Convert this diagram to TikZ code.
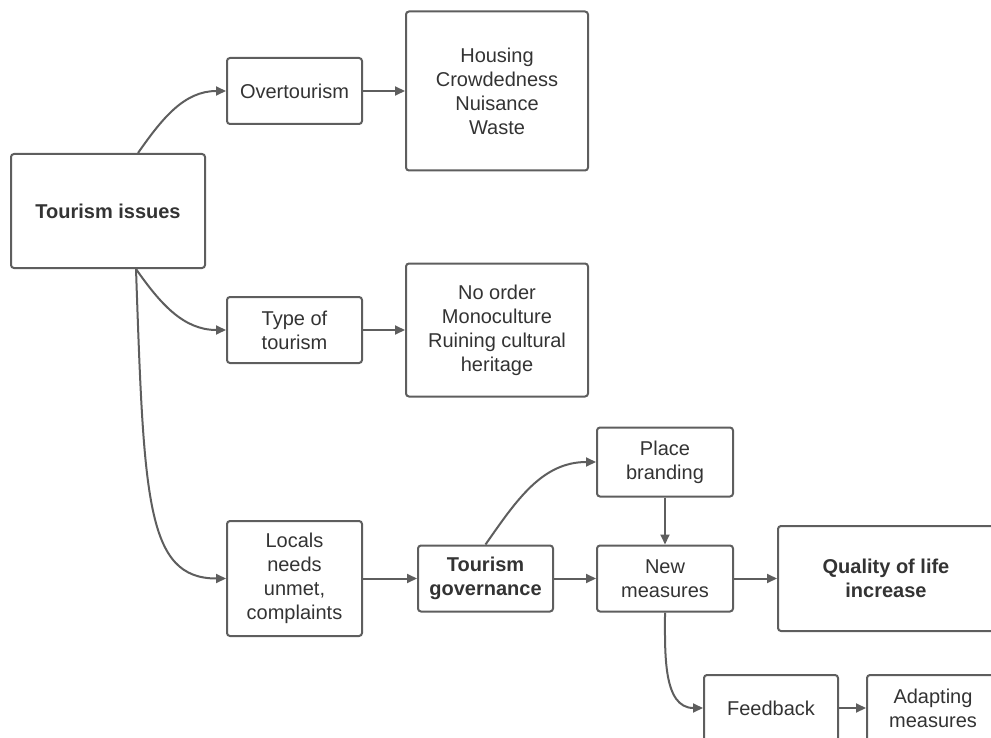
\documentclass[tikz,border=0pt]{standalone}
\usepackage{fontspec}
\setmainfont{Liberation Sans}
\usetikzlibrary{arrows.meta,positioning}
\definecolor{linegray}{HTML}{5E5E5E}
\definecolor{textgray}{HTML}{333333}

\begin{document}
\begin{tikzpicture}[x=0.5pt,y=-0.5pt,->,>={Triangle[length=5pt,width=4.5pt]},line width=1pt,draw=linegray,node distance=21pt,
  every node/.style={draw=linegray,rounded corners=1.5pt,align=center,text=textgray,inner sep=2pt},
  small/.style={minimum width=67.5pt,minimum height=33pt},
  list/.style={minimum width=91pt}]
\useasboundingbox (0,0) rectangle (991,738);
\clip (0,0) rectangle (991,738);
\node[minimum width=97pt,minimum height=57pt,font=\bfseries] (issues) at (108,211) {Tourism issues};
\node[small] (over) at (294.5,91) {Overtourism};
\node[list,minimum height=79.5pt] (housing) [right=of over] {Housing\\Crowdedness\\Nuisance\\Waste};
\node[small] (type) at (294.5,330) {Type of\\tourism};
\node[list,minimum height=66.5pt] (noorder) [right=of type] {No order\\Monoculture\\Ruining cultural\\heritage};
\node[small,minimum height=57.5pt] (locals) at (294.5,578.5) {Locals\\needs\\unmet,\\complaints};
\node[small,font=\bfseries] (gov) [right=27pt of locals] {Tourism\\governance};
\node[small,minimum width=68pt] (new) [right=of gov] {New\\measures};
\node[small,minimum width=68pt,minimum height=34.5pt] (place) [above=23.5pt of new] {Place\\branding};
\node[minimum width=108pt,minimum height=52.5pt,font=\bfseries] (quality) [right=21.5pt of new] {Quality of life\\increase};
\node[small,minimum width=67pt] (feedback) at (771,708) {Feedback};
\node[small,minimum width=66pt] (adapting) [right=13.5pt of feedback] {Adapting\\measures};
% branches out of the issues box
\draw ([xshift=15pt]issues.north) to[out=55,in=180] (over.west);
\draw ([xshift=14pt]issues.south) to[out=-55,in=180] (type.west);
\draw ([xshift=14pt]issues.south) .. controls +(8,230) and +(-80,0) .. (locals.west);
\draw (over) -- (housing);
\draw (type) -- (noorder);
\draw (locals) -- (gov);
\draw (gov.north) to[out=55,in=180] (place.west);
\draw (gov) -- (new);
\draw (place) -- (new);
\draw (new) -- (quality);
\draw (new.south) to[out=-90,in=180] (feedback.west);
\draw (feedback) -- (adapting);
\end{tikzpicture}
\end{document}
